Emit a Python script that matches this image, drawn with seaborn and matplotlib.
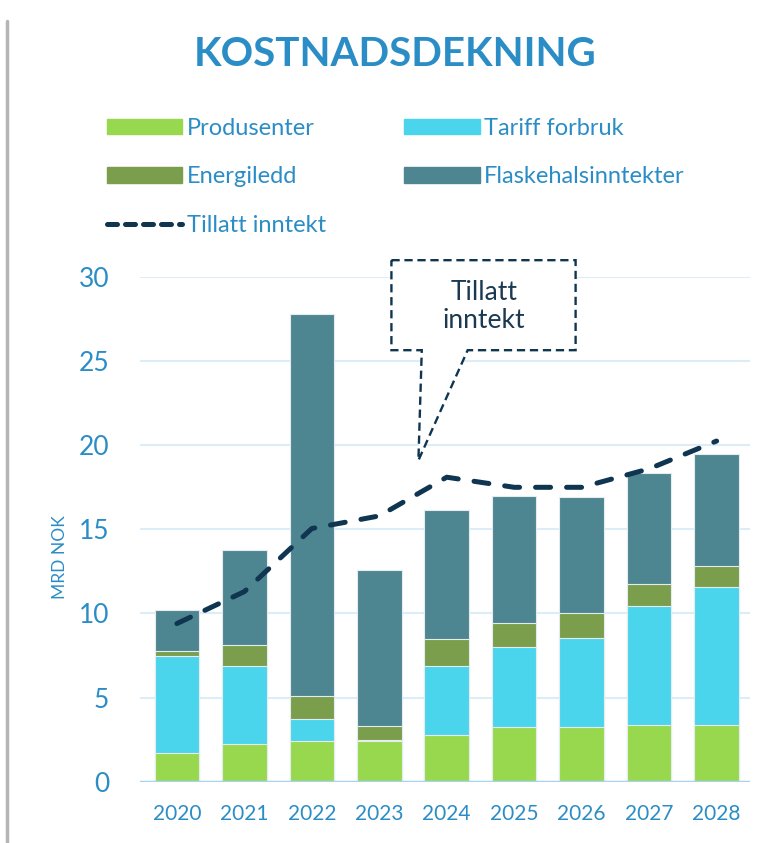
import numpy as np
import pandas as pd
import matplotlib.pyplot as plt
import seaborn as sns
from matplotlib.patches import Patch, Polygon
from matplotlib.lines import Line2D

# Data (MRD NOK)
years = ["2020", "2021", "2022", "2023", "2024", "2025", "2026", "2027", "2028"]
produsenter = [1.7, 2.25, 2.4, 2.4, 2.75, 3.25, 3.25, 3.35, 3.4]
tariff_forbruk = [5.8, 4.65, 1.35, 0.05, 4.15, 4.75, 5.3, 7.1, 8.15]
energiledd = [0.25, 1.2, 1.35, 0.85, 1.6, 1.45, 1.5, 1.3, 1.25]
flaskehals = [2.45, 5.65, 22.7, 9.3, 7.65, 7.55, 6.9, 6.6, 6.65]
tillatt_inntekt = [9.4, 11.3, 15.05, 15.8, 18.1, 17.5, 17.5, 18.6, 20.25]

c_prod = "#97D84F"
c_tariff = "#4BD5EC"
c_energi = "#7A9E4C"
c_flaske = "#4D8591"
c_line = "#0F3550"
c_blue = "#2B8DC6"

df = pd.DataFrame({"year": years, "prod": produsenter, "tariff": tariff_forbruk,
                   "energi": energiledd, "flaske": flaskehals})
df["c1"] = df["prod"]
df["c2"] = df["c1"] + df["tariff"]
df["c3"] = df["c2"] + df["energi"]
df["c4"] = df["c3"] + df["flaske"]

sns.set_theme(style="white")
plt.rcParams["font.family"] = ["Lato", "DejaVu Sans"]

fig = plt.figure(figsize=(7.68, 8.43), dpi=100)
ax = fig.add_axes([0.182, 0.0727, 0.795, 0.5987])

# Stacked bars drawn as overlapping cumulative totals
bar_kws = dict(width=0.66, saturation=1, edgecolor="#e4ecef", linewidth=0.8, ax=ax, zorder=2)
sns.barplot(data=df, x="year", y="c4", color=c_flaske, **bar_kws)
sns.barplot(data=df, x="year", y="c3", color=c_energi, **bar_kws)
sns.barplot(data=df, x="year", y="c2", color=c_tariff, **bar_kws)
sns.barplot(data=df, x="year", y="c1", color=c_prod, **bar_kws)

sns.lineplot(x=np.arange(len(years)), y=tillatt_inntekt, ax=ax, color=c_line,
             linewidth=3.6, dashes=False, zorder=4)
ax.lines[-1].set_dashes((3, 3.2))
ax.lines[-1].set_dash_capstyle("round")

ax.set_ylim(0, 30)
ax.set_xlim(-0.55, 8.5)
ax.set_yticks(range(0, 31, 5))
ax.yaxis.grid(True, color="#DCEDF8", linewidth=1.5, zorder=0)
ax.set_axisbelow(True)
for s in ax.spines.values():
    s.set_visible(False)
ax.axhline(0, color="#A8D2EE", linewidth=2.5, zorder=3)

ax.tick_params(axis="y", labelsize=19, labelcolor=c_blue, length=0, pad=22)
ax.tick_params(axis="x", labelsize=15, labelcolor=c_blue, length=0, pad=16)
ax.set_xlabel("")
ax.set_ylabel("MRD NOK", fontsize=12.5, color=c_blue)
ax.yaxis.set_label_coords(-0.118, 0.445)

# Callout
callout = [(3.18, 31.0), (5.91, 31.0), (5.91, 25.65), (4.31, 25.65),
           (3.58, 19.1), (3.63, 25.65), (3.18, 25.65)]
ax.add_patch(Polygon(callout, closed=True, facecolor="white", edgecolor=c_line,
                     linestyle=(0, (3.5, 2)), linewidth=1.7, clip_on=False, zorder=5))
ax.text(4.55, 28.25, "Tillatt\ninntekt", ha="center", va="center", fontsize=19,
        color="#1B3A52", linespacing=1.15, zorder=6)

# Title
fig.text(0.514, 0.935, "KOSTNADSDEKNING", ha="center", va="center",
         fontsize=29, fontweight="bold", color=c_blue)

# Legend
handles = [Patch(color=c_prod), Patch(color=c_energi),
           Line2D([0], [0], color=c_line, linewidth=3.6, dashes=(2, 1.6),
                  dash_capstyle="round"),
           Patch(color=c_tariff), Patch(color=c_flaske)]
labels = ["Produsenter", "Energiledd", "Tillatt inntekt", "Tariff forbruk",
          "Flaskehalsinntekter"]
leg = fig.legend(handles, labels, ncol=2, loc="upper left",
                 bbox_to_anchor=(0.139, 0.860), frameon=False, fontsize=17,
                 handlelength=3.2, handleheight=0.62, handletextpad=0.2,
                 labelspacing=1.16, columnspacing=3.3, borderpad=0, borderaxespad=0)
for t in leg.get_texts():
    t.set_color(c_blue)

# left page edge shadow
fig.add_artist(Line2D([0.009, 0.009], [0.0, 0.975], color="#b5b5b5", linewidth=2.5,
                      transform=fig.transFigure))

plt.savefig("out.png", dpi=100)
